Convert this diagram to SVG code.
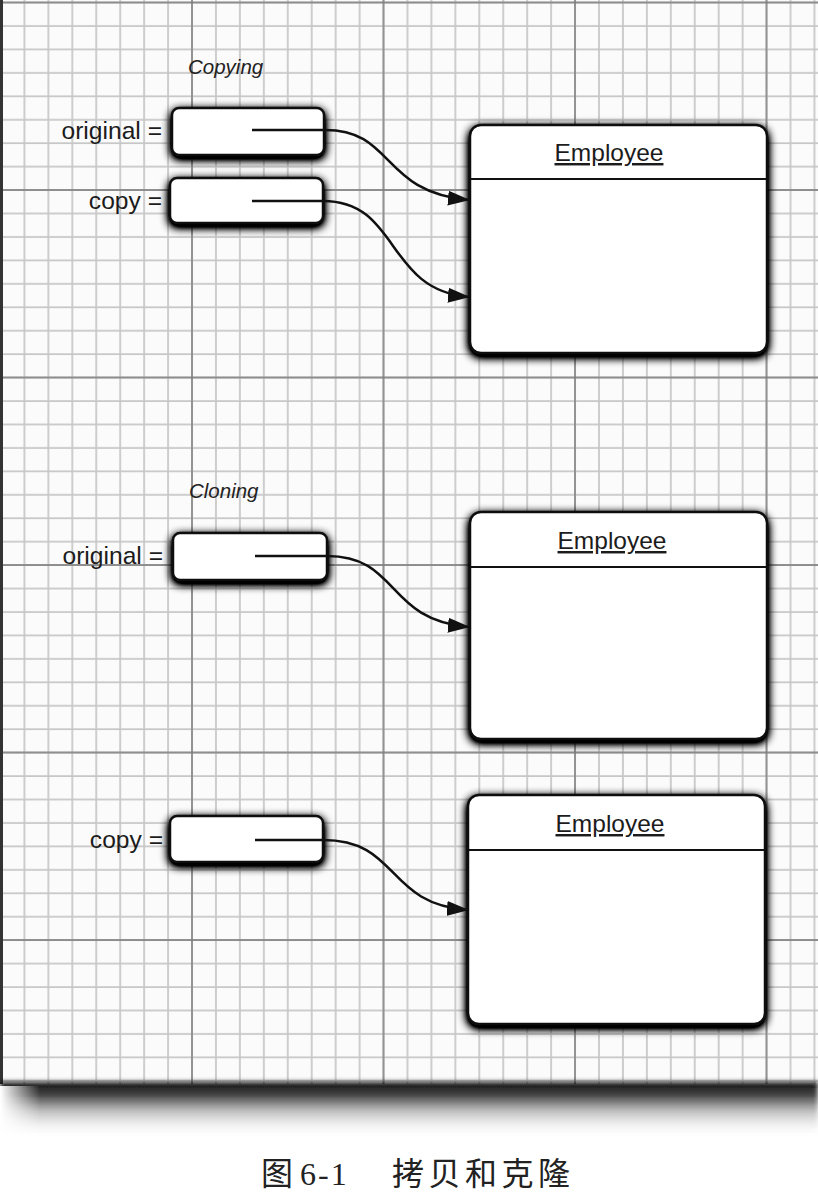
<svg xmlns="http://www.w3.org/2000/svg" width="818" height="1204" viewBox="0 0 818 1204">
<style>
.lbl{font-family:"Liberation Sans",Arial,sans-serif;font-size:24.6px;fill:#1c1c1c;text-anchor:end}
.ttl{font-family:"Liberation Sans",Arial,sans-serif;font-style:italic;font-size:20.5px;fill:#222}
.var{fill:#fff;stroke:#111;stroke-width:2.5}
.obj{fill:#fff;stroke:#111;stroke-width:2.5}
.sep{stroke:#111;stroke-width:2}
.cls{font-family:"Liberation Sans",Arial,sans-serif;font-size:24.5px;fill:#1c1c1c;text-anchor:middle;text-decoration:underline}
.conn{fill:none;stroke:#111;stroke-width:2.5}
.cap{font-size:32px;fill:#222}
</style>
<defs>
<pattern id="gminor" patternUnits="userSpaceOnUse" x="-0.5" y="1.5" width="23.94" height="23.44">
<path d="M1,0 V23.44 M0,1 H23.94" stroke="#c6c6c6" stroke-width="1.7" fill="none"/>
</pattern>
<pattern id="gmajor" patternUnits="userSpaceOnUse" x="-0.5" y="1.5" width="191.5" height="187.5">
<path d="M1,0 V187.5 M0,1 H191.5" stroke="#7a7a7a" stroke-width="1.4" fill="none"/>
</pattern>
<linearGradient id="bshadow" x1="0" y1="0" x2="0" y2="1">
<stop offset="0" stop-color="#000" stop-opacity="0.95"/>
<stop offset="0.22" stop-color="#111" stop-opacity="0.8"/>
<stop offset="0.5" stop-color="#333" stop-opacity="0.35"/>
<stop offset="1" stop-color="#fff" stop-opacity="0"/>
</linearGradient>
<linearGradient id="lfade" x1="0" y1="0" x2="1" y2="0">
<stop offset="0" stop-color="#fff" stop-opacity="1"/>
<stop offset="1" stop-color="#fff" stop-opacity="0"/>
</linearGradient>
<filter id="sh" x="-20%" y="-35%" width="140%" height="180%">
<feGaussianBlur in="SourceAlpha" stdDeviation="5"/>
<feOffset dy="3"/>
<feComponentTransfer><feFuncA type="linear" slope="1.9"/></feComponentTransfer>
<feMerge><feMergeNode/><feMergeNode in="SourceGraphic"/></feMerge>
</filter>
<filter id="blur6" x="-5%" y="-50%" width="110%" height="200%">
<feGaussianBlur stdDeviation="2.5"/>
</filter>
<marker id="arr" markerUnits="userSpaceOnUse" markerWidth="22" markerHeight="16" refX="21" refY="8" orient="auto">
<path d="M0,0.5 L22,8 L0,15.5 z" fill="#111"/>
</marker>
</defs>

<g id="paper">
<rect x="0" y="0" width="818" height="1084" fill="#fbfbfb"/>
<rect x="0" y="0" width="818" height="1084" fill="url(#gminor)"/>
<rect x="0" y="0" width="818" height="1084" fill="url(#gmajor)"/>
<rect x="0" y="0" width="3" height="1084" fill="#333"/>
<rect x="0" y="1082" width="818" height="56" fill="url(#bshadow)" filter="url(#blur6)"/>
<rect x="0" y="1086" width="40" height="50" fill="url(#lfade)"/>
</g>

<text class="ttl" x="188" y="74">Copying</text>
<text class="ttl" x="189" y="498">Cloning</text>

<g id="copy-original">
<text class="lbl" x="162" y="139">original =</text>
<rect class="var" x="172" y="108" width="152" height="47" rx="7" filter="url(#sh)"/>
</g>
<g id="copy-copy">
<text class="lbl" x="162" y="209">copy =</text>
<rect class="var" x="170" y="178" width="153" height="45" rx="7" filter="url(#sh)"/>
</g>
<g id="copy-employee">
<rect class="obj" x="470" y="125" width="297" height="228" rx="11" filter="url(#sh)"/>
<line class="sep" x1="471" y1="179" x2="766" y2="179"/>
<text class="cls" x="609" y="161">Employee</text>
</g>

<g id="clone-original">
<text class="lbl" x="163" y="564">original =</text>
<rect class="var" x="173" y="533" width="154" height="47" rx="7" filter="url(#sh)"/>
</g>
<g id="clone-employee1">
<rect class="obj" x="470" y="512" width="297" height="227" rx="11" filter="url(#sh)"/>
<line class="sep" x1="471" y1="567" x2="766" y2="567"/>
<text class="cls" x="612" y="549">Employee</text>
</g>

<g id="clone-copy">
<text class="lbl" x="163" y="848">copy =</text>
<rect class="var" x="170" y="816" width="153" height="46" rx="7" filter="url(#sh)"/>
</g>
<g id="clone-employee2">
<rect class="obj" x="468" y="795" width="297" height="229" rx="11" filter="url(#sh)"/>
<line class="sep" x1="469" y1="850" x2="764" y2="850"/>
<text class="cls" x="610" y="832">Employee</text>
</g>

<g id="connectors">
<path class="conn" marker-end="url(#arr)" d="M252,130 L325,130 C395,130 380,192 469,200"/>
<path class="conn" marker-end="url(#arr)" d="M252,201 L323,201 C400,201 385,290 469,297"/>
<path class="conn" marker-end="url(#arr)" d="M255,556 L327,556 C400,556 385,620 469,627"/>
<path class="conn" marker-end="url(#arr)" d="M255,840 L323,840 C400,840 385,904 468,910"/>
</g>

<text class="cap" y="1185"><tspan x="261" font-family="'Noto Sans CJK SC',sans-serif">图</tspan><tspan x="300" font-family="'Liberation Serif',serif" letter-spacing="2">6-1</tspan><tspan x="392" font-family="'Noto Sans CJK SC',sans-serif" letter-spacing="4.5">拷贝和克隆</tspan></text>
</svg>
